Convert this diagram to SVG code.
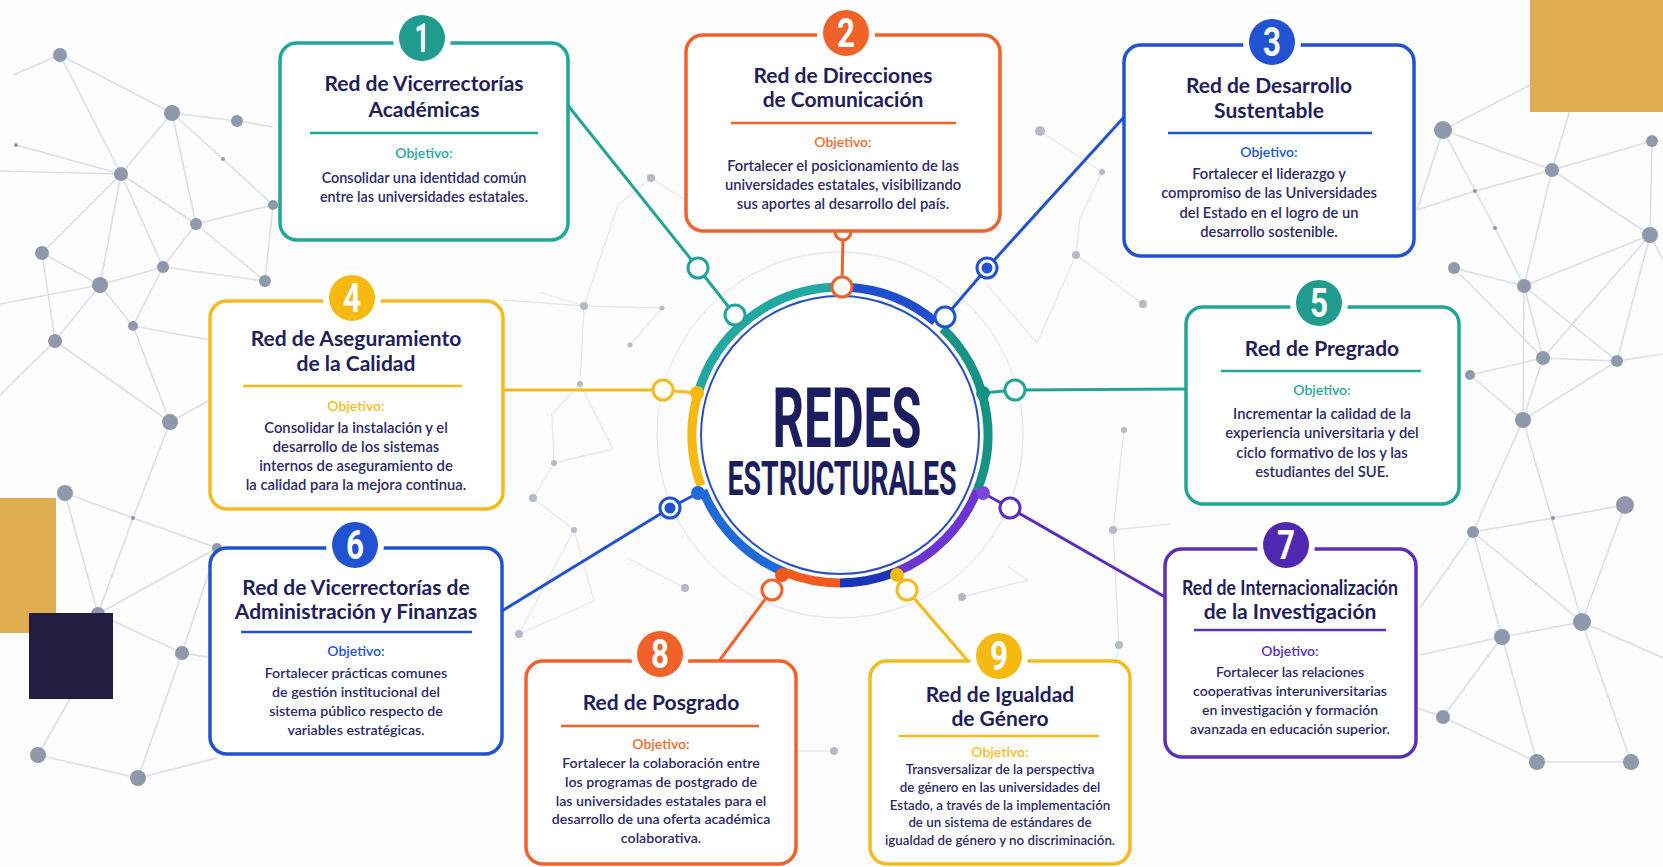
<svg xmlns="http://www.w3.org/2000/svg" width="1663" height="867" viewBox="0 0 1663 867">
<style>
.bgl{stroke:#dcdfe5;stroke-width:1.6;fill:none}
.bgf{stroke:#e6e8ec;stroke-width:1.3;fill:none}
.bgd{fill:#8f99ab}
.box{fill:#fff;stroke-width:3.5}
.t{font-family:Lato,"Liberation Sans",sans-serif;font-weight:700;font-size:21px;fill:#22205a;text-anchor:middle}
.o{font-family:Lato,"Liberation Sans",sans-serif;font-weight:600;font-size:14px;text-anchor:middle}
.b{font-family:Lato,"Liberation Sans",sans-serif;font-weight:600;fill:#2c2a68;text-anchor:middle}
.num{font-family:Roboto,"Liberation Sans",sans-serif;font-weight:700;font-size:40px;fill:#fff;text-anchor:middle}
.gap{fill:#fff}
.div{stroke-width:2.5}
.con{fill:none;stroke-width:3}
.oc{fill:#fff;stroke-width:3}
.rs{fill:none;stroke-width:9}
.teal{stroke:#22a597}
.orng{stroke:#f1622a}
.blue{stroke:#2152d2}
.yell{stroke:#f5ba1c}
.purp{stroke:#5b2fbd}
</style>
<rect width="1663" height="867" fill="#fdfdfd"/>
<g id="background">
<path class="bgl" d="M13,75L60,55L172,113L237,121M60,55L121,174M172,113L121,174M172,113L196,224M172,113L223,159L273,205M16,145L121,174M0,171L121,174M121,174L42,253M121,174L100,285M121,174L163,267M121,174L196,224M196,224L273,205M196,224L265,281M196,224L163,267M42,253L100,285M42,253L55,341M0,304L100,285M100,285L163,267M100,285L133,326M100,285L55,341M163,267L265,281M163,267L133,326M133,326L170,422M133,326L210,340M55,341L170,422M0,395L55,341M170,422L210,400M170,422L133,518M65,493L98,614M65,493L133,518L217,548M133,518L98,614M98,614L182,653M98,614L217,548M182,653L217,548M182,653L138,778M38,755L138,778M38,755L75,690M138,778L217,758M182,653L213,658M273,205L265,281M237,121L273,127"/>
<path class="bgl" d="M1443,130L1552,170M1443,130L1540,80M1443,130L1417,210M1443,130L1495,228L1524,286M1552,170L1652,141M1552,170L1573,100M1552,170L1524,286M1552,170L1650,235M1417,210L1475,191L1552,170M1652,141L1650,235M1650,235L1524,286M1650,235L1543,358M1650,235L1617,361M1650,235L1663,260M1454,268L1524,286M1454,268L1543,358M1524,286L1543,358M1524,286L1523,420M1524,286L1617,361M1543,358L1617,361M1543,358L1470,375M1543,358L1523,420M1617,361L1523,420M1617,361L1663,354M1523,420L1473,532M1523,420L1582,622M1470,375L1523,420M1473,532L1553,518L1625,505M1473,532L1582,622M1473,532L1502,637M1473,532L1420,608M1625,505L1582,622M1582,622L1502,637M1582,622L1631,762M1582,622L1663,658M1502,637L1443,717M1502,637L1537,762M1502,637L1420,655M1443,717L1537,762M1537,762L1631,762M1443,717L1417,708"/>
<path class="bgf" d="M503,300L584,306L662,308M539,292L584,306M584,306L580,384L552,414L554,463L533,498M580,384L613,449M554,463L613,449M533,498L574,530L594,601M574,530L519,634M594,601L519,634M618,205L651,178M618,205L584,306M651,178L700,210M1040,131L1102,172L1080,218L1076,255M1076,255L1143,304M1124,430L1113,530L1171,524M1113,530L1119,645L1103,728M752,751L834,751M630,345L662,308M1037,343L987,285M1037,343L1076,255M685,588L627,558M962,597L1028,580M1008,567L1028,580"/>
<circle cx="840" cy="435" r="183" class="bgf"/>
<g class="bgd">
<circle cx="60" cy="55" r="7"/><circle cx="172" cy="113" r="8"/><circle cx="237" cy="121" r="6"/><circle cx="121" cy="174" r="7"/><circle cx="16" cy="145" r="2"/><circle cx="223" cy="159" r="2"/><circle cx="273" cy="205" r="5"/><circle cx="196" cy="224" r="6"/><circle cx="42" cy="253" r="7"/><circle cx="100" cy="285" r="8"/><circle cx="163" cy="267" r="6"/><circle cx="265" cy="281" r="6"/><circle cx="133" cy="326" r="5"/><circle cx="55" cy="341" r="7"/><circle cx="170" cy="422" r="8"/><circle cx="65" cy="493" r="8"/><circle cx="133" cy="518" r="2"/><circle cx="217" cy="548" r="5"/><circle cx="98" cy="614" r="7"/><circle cx="182" cy="653" r="7"/><circle cx="38" cy="755" r="8"/><circle cx="138" cy="778" r="8"/>
<circle cx="1443" cy="130" r="9"/><circle cx="1552" cy="170" r="7"/><circle cx="1652" cy="141" r="6"/><circle cx="1650" cy="235" r="8"/><circle cx="1475" cy="191" r="2"/><circle cx="1495" cy="228" r="2"/><circle cx="1454" cy="268" r="6"/><circle cx="1524" cy="286" r="7"/><circle cx="1543" cy="358" r="7"/><circle cx="1617" cy="361" r="6"/><circle cx="1470" cy="375" r="5"/><circle cx="1523" cy="420" r="8"/><circle cx="1625" cy="505" r="9"/><circle cx="1553" cy="518" r="2"/><circle cx="1473" cy="532" r="6"/><circle cx="1582" cy="622" r="9"/><circle cx="1502" cy="637" r="8"/><circle cx="1443" cy="717" r="7"/><circle cx="1537" cy="762" r="8"/><circle cx="1631" cy="762" r="8"/>
</g>
<g fill="#b4bac6">
<circle cx="584" cy="306" r="4"/><circle cx="580" cy="384" r="3"/><circle cx="554" cy="463" r="3"/><circle cx="533" cy="498" r="4"/><circle cx="574" cy="530" r="3"/><circle cx="519" cy="634" r="4"/><circle cx="651" cy="178" r="4"/><circle cx="1040" cy="131" r="5"/><circle cx="1102" cy="172" r="3"/><circle cx="1076" cy="255" r="4"/><circle cx="1143" cy="304" r="4"/><circle cx="1124" cy="430" r="3"/><circle cx="1113" cy="530" r="4"/><circle cx="1119" cy="645" r="4"/><circle cx="752" cy="751" r="4"/><circle cx="834" cy="751" r="4"/><circle cx="685" cy="588" r="4"/><circle cx="962" cy="597" r="4"/><circle cx="662" cy="308" r="2.5"/><circle cx="630" cy="345" r="2.5"/>
</g>
<rect x="1530" y="0" width="133" height="112" fill="#e0ae50"/>
<rect x="0" y="498" width="56" height="135" fill="#e0ae50"/>
<rect x="29" y="613" width="84" height="86" fill="#221c41"/>
</g>

<g id="connectors">
<polyline class="con teal" points="566,103 698,268 735,315"/>
<line class="con orng" x1="843" y1="232" x2="842" y2="287"/>
<polyline class="con blue" points="1125,116 987,268 945,317"/>
<polyline class="con yell" points="503,390 663,390 697,393"/>
<polyline class="con teal" points="983,393 1015,390 1186,389"/>
<polyline class="con blue" points="502,611 670,508 698,493"/>
<polyline class="con purp" points="983,493 1010,508 1165,597"/>
<polyline class="con orng" points="782,575 772,590 719,661"/>
<polyline class="con yell" points="897,575 907,590 968,661"/>
</g>

<g id="center">
<circle cx="840" cy="435" r="139" fill="#fff" stroke="#2a4fc4" stroke-width="2"/>
<path class="rs" stroke="#1f4fd0" d="M847.7,287.2A148,148 0 0 1 935.1,321.6"/>
<path class="rs" stroke="#179383" d="M942.8,328.5A148,148 0 0 1 977.2,490.4"/>
<path class="rs" stroke="#6a35d0" d="M977.2,490.4A148,148 0 0 1 895.4,572.2"/>
<path class="rs" stroke="#1b34b8" d="M895.4,572.2A148,148 0 0 1 840,583"/>
<path class="rs" stroke="#f05a20" d="M840,583A148,148 0 0 1 784.6,572.2"/>
<path class="rs" stroke="#1d6ad8" d="M784.6,572.2A148,148 0 0 1 702.8,490.4"/>
<path class="rs" stroke="#f5b912" d="M700.9,485.6A148,148 0 0 1 697.7,394.2"/>
<path class="rs" stroke="#22a8a0" d="M697.7,394.2A148,148 0 0 1 832.3,287.2"/>
<circle cx="983" cy="393" r="7" fill="#179383"/>
<circle cx="983" cy="493" r="7" fill="#7a48d8"/>
<circle cx="897" cy="575" r="7" fill="#f5b912"/>
<circle cx="782" cy="575" r="7" fill="#f05a20"/>
<circle cx="698" cy="493" r="7" fill="#1d6ad8"/>
<circle cx="697" cy="393" r="7" fill="#f5b912"/>
<circle class="oc orng" cx="842" cy="287" r="10"/>
<circle class="oc orng" cx="843" cy="232" r="8"/>
<circle class="oc teal" cx="735" cy="315" r="10"/>
<circle class="oc teal" cx="698" cy="268" r="10"/>
<circle class="oc blue" cx="945" cy="317" r="10"/>
<circle class="oc blue" cx="987" cy="268" r="10"/>
<circle cx="987" cy="268" r="5.5" fill="#2152d2"/>
<circle class="oc yell" cx="663" cy="390" r="10"/>
<circle class="oc teal" cx="1015" cy="390" r="10"/>
<circle class="oc blue" cx="670" cy="508" r="10"/>
<circle cx="670" cy="508" r="5.5" fill="#2152d2"/>
<circle class="oc purp" cx="1010" cy="508" r="10"/>
<circle class="oc orng" cx="772" cy="590" r="10"/>
<circle class="oc yell" cx="907" cy="590" r="10"/>
<text x="847" y="447" textLength="149" lengthAdjust="spacingAndGlyphs" font-family="Roboto,'Liberation Sans',sans-serif" font-weight="700" font-size="83" fill="#1b1d5e" text-anchor="middle">REDES</text>
<text x="842" y="495" textLength="229" lengthAdjust="spacingAndGlyphs" font-family="Roboto,'Liberation Sans',sans-serif" font-weight="700" font-size="49" fill="#1b1d5e" text-anchor="middle">ESTRUCTURALES</text>
</g>

<g id="node1">
<rect class="box teal" x="280" y="43" width="288" height="197" rx="17"/>
<circle class="gap" cx="422" cy="38" r="29"/>
<circle cx="422" cy="38" r="23" fill="#1f9c8e"/>
<text class="num" x="422" y="52" textLength="15" lengthAdjust="spacingAndGlyphs">1</text>
<text class="t" x="424" y="91">Red de Vicerrectorías</text>
<text class="t" x="424" y="117">Académicas</text>
<line class="div teal" x1="310" y1="133" x2="538" y2="133"/>
<text class="o" x="424" y="158" fill="#25a99a">Objetivo:</text>
<text class="b" x="424" y="183" font-size="14.4">Consolidar una identidad común</text>
<text class="b" x="424" y="202" font-size="14.4">entre las universidades estatales.</text>
</g>

<g id="node2">
<rect class="box orng" x="686" y="35" width="314" height="196" rx="17"/>
<circle class="gap" cx="846" cy="33" r="29"/>
<circle cx="846" cy="33" r="23" fill="#f1622a"/>
<text class="num" x="846" y="47" textLength="18" lengthAdjust="spacingAndGlyphs">2</text>
<text class="t" x="843" y="83">Red de Direcciones</text>
<text class="t" x="843" y="107">de Comunicación</text>
<line class="div orng" x1="731" y1="123" x2="956" y2="123"/>
<text class="o" x="843" y="147" fill="#f26a2a">Objetivo:</text>
<text class="b" x="843" y="171" font-size="14.7">Fortalecer el posicionamiento de las</text>
<text class="b" x="843" y="190" font-size="14.7">universidades estatales, visibilizando</text>
<text class="b" x="843" y="209" font-size="14.7">sus aportes al desarrollo del país.</text>
</g>

<g id="node3">
<rect class="box blue" x="1124" y="45" width="290" height="211" rx="17"/>
<circle class="gap" cx="1272" cy="42" r="29"/>
<circle cx="1272" cy="42" r="23" fill="#2152d2"/>
<text class="num" x="1272" y="56" textLength="18" lengthAdjust="spacingAndGlyphs">3</text>
<text class="t" x="1269" y="93">Red de Desarrollo</text>
<text class="t" x="1269" y="118">Sustentable</text>
<line class="div blue" x1="1168" y1="133" x2="1372" y2="133"/>
<text class="o" x="1269" y="157" fill="#2255d4">Objetivo:</text>
<text class="b" x="1269" y="179" font-size="14.7">Fortalecer el liderazgo y</text>
<text class="b" x="1269" y="198" font-size="14.7">compromiso de las Universidades</text>
<text class="b" x="1269" y="218" font-size="14.7">del Estado en el logro de un</text>
<text class="b" x="1269" y="237" font-size="14.7">desarrollo sostenible.</text>
</g>

<g id="node4">
<rect class="box yell" x="210" y="301" width="293" height="208" rx="17"/>
<circle class="gap" cx="352" cy="298" r="29"/>
<circle cx="352" cy="298" r="23" fill="#f5b912"/>
<text class="num" x="352" y="312" textLength="18" lengthAdjust="spacingAndGlyphs">4</text>
<text class="t" x="356" y="346">Red de Aseguramiento</text>
<text class="t" x="356" y="371">de la Calidad</text>
<line class="div yell" x1="243" y1="386" x2="462" y2="386"/>
<text class="o" x="356" y="411" fill="#f5bd22">Objetivo:</text>
<text class="b" x="356" y="433" font-size="14.8">Consolidar la instalación y el</text>
<text class="b" x="356" y="452" font-size="14.8">desarrollo de los sistemas</text>
<text class="b" x="356" y="471" font-size="14.8">internos de aseguramiento de</text>
<text class="b" x="356" y="490" font-size="14.8">la calidad para la mejora continua.</text>
</g>

<g id="node5">
<rect class="box teal" x="1186" y="307" width="273" height="197" rx="17"/>
<circle class="gap" cx="1319" cy="303" r="29"/>
<circle cx="1319" cy="303" r="23" fill="#1f9c8e"/>
<text class="num" x="1319" y="317" textLength="18" lengthAdjust="spacingAndGlyphs">5</text>
<text class="t" x="1322" y="356">Red de Pregrado</text>
<line class="div teal" x1="1221" y1="371" x2="1421" y2="371"/>
<text class="o" x="1322" y="395" fill="#25a99a">Objetivo:</text>
<text class="b" x="1322" y="419" font-size="14.8">Incrementar la calidad de la</text>
<text class="b" x="1322" y="438" font-size="14.8">experiencia universitaria y del</text>
<text class="b" x="1322" y="458" font-size="14.8">ciclo formativo de los y las</text>
<text class="b" x="1322" y="477" font-size="14.8">estudiantes del SUE.</text>
</g>

<g id="node6">
<rect class="box blue" x="210" y="548" width="292" height="206" rx="17"/>
<circle class="gap" cx="355" cy="545" r="29"/>
<circle cx="355" cy="545" r="23" fill="#2152d2"/>
<text class="num" x="355" y="559" textLength="18" lengthAdjust="spacingAndGlyphs">6</text>
<text class="t" x="356" y="595" font-size="19.2">Red de Vicerrectorías de</text>
<text class="t" x="356" y="619" font-size="19.2">Administración y Finanzas</text>
<line class="div blue" x1="241" y1="632" x2="472" y2="632"/>
<text class="o" x="356" y="656" fill="#2255d4">Objetivo:</text>
<text class="b" x="356" y="678" font-size="14.2">Fortalecer prácticas comunes</text>
<text class="b" x="356" y="697" font-size="14.2">de gestión institucional del</text>
<text class="b" x="356" y="716" font-size="14.2">sistema público respecto de</text>
<text class="b" x="356" y="735" font-size="14.2">variables estratégicas.</text>
</g>

<g id="node7">
<rect class="box purp" x="1165" y="549" width="251" height="208" rx="17"/>
<circle class="gap" cx="1286" cy="545" r="29"/>
<circle cx="1286" cy="545" r="23" fill="#4f27b3"/>
<text class="num" x="1286" y="559" textLength="18" lengthAdjust="spacingAndGlyphs">7</text>
<text class="t" x="1290" y="595" font-size="17" textLength="216" lengthAdjust="spacingAndGlyphs">Red de Internacionalización</text>
<text class="t" x="1290" y="619" font-size="17.5">de la Investigación</text>
<line class="div purp" x1="1194" y1="630" x2="1386" y2="630"/>
<text class="o" x="1290" y="656" fill="#5b2fbf">Objetivo:</text>
<text class="b" x="1290" y="677" font-size="14">Fortalecer las relaciones</text>
<text class="b" x="1290" y="696" font-size="14">cooperativas interuniversitarias</text>
<text class="b" x="1290" y="715" font-size="14">en investigación y formación</text>
<text class="b" x="1290" y="734" font-size="14">avanzada en educación superior.</text>
</g>

<g id="node8">
<rect class="box orng" x="526" y="661" width="270" height="203" rx="17"/>
<circle class="gap" cx="660" cy="654" r="29"/>
<circle cx="660" cy="654" r="23" fill="#f1622a"/>
<text class="num" x="660" y="668" textLength="18" lengthAdjust="spacingAndGlyphs">8</text>
<text class="t" x="661" y="710">Red de Posgrado</text>
<line class="div orng" x1="561" y1="726" x2="759" y2="726"/>
<text class="o" x="661" y="749" fill="#f26a2a">Objetivo:</text>
<text class="b" x="661" y="768" font-size="14.2">Fortalecer la colaboración entre</text>
<text class="b" x="661" y="787" font-size="14.2">los programas de postgrado de</text>
<text class="b" x="661" y="806" font-size="14.2">las universidades estatales para el</text>
<text class="b" x="661" y="824" font-size="14.2">desarrollo de una oferta académica</text>
<text class="b" x="661" y="843" font-size="14.2">colaborativa.</text>
</g>

<g id="node9">
<rect class="box yell" x="870" y="661" width="260" height="203" rx="17"/>
<circle class="gap" cx="999" cy="656" r="29"/>
<circle cx="999" cy="656" r="23" fill="#f5b912"/>
<text class="num" x="999" y="670" textLength="18" lengthAdjust="spacingAndGlyphs">9</text>
<text class="t" x="1000" y="702">Red de Igualdad</text>
<text class="t" x="1000" y="726">de Género</text>
<line class="div yell" x1="899" y1="736" x2="1099" y2="736"/>
<text class="o" x="1000" y="757" fill="#f5bd22">Objetivo:</text>
<text class="b" x="1000" y="774" font-size="13.3">Transversalizar de la perspectiva</text>
<text class="b" x="1000" y="792" font-size="13.3">de género en las universidades del</text>
<text class="b" x="1000" y="810" font-size="13.3">Estado, a través de la implementación</text>
<text class="b" x="1000" y="827" font-size="13.3">de un sistema de estándares de</text>
<text class="b" x="1000" y="845" font-size="13.3">igualdad de género y no discriminación.</text>
</g>
</svg>
